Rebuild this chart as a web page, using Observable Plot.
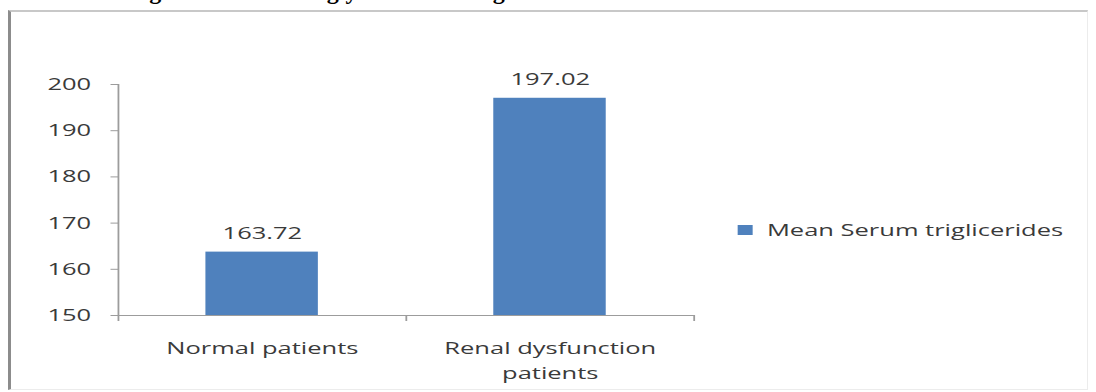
<!DOCTYPE html>
<html>
<head>
<meta charset="utf-8">
<script src="https://cdn.jsdelivr.net/npm/d3@7"></script>
<script src="https://cdn.jsdelivr.net/npm/@observablehq/plot@0.6"></script>
<style>
  html, body { margin: 0; padding: 0; background: #fff; }
  #page { position: relative; width: 1096px; height: 392px; overflow: hidden; background: #fff; }
  #title { position: absolute; left: 128px; top: -21px; font: bold 24px "Liberation Serif", "Times New Roman", serif; color: #000; white-space: nowrap; line-height: 24px; }
  #frame { position: absolute; left: 8px; top: 10px; width: 1076px; height: 377px;
           border-top: 2px solid #c8c8c8; border-left: 3px solid #8c8c8c;
           border-right: 1px solid #ececec; border-bottom: 1px solid #ececec; }
  #stretch { position: absolute; left: 0; top: 0; width: 731px; height: 392px; transform-origin: 0 0; }
  #legend { position: absolute; left: 492px; top: 221px; display: flex; align-items: center;
            font: 17px "Open Sans", sans-serif; color: #3a3a3a; line-height: 17px; white-space: nowrap; }
  #legend .sw { width: 10px; height: 10px; margin-right: 9.5px; }
</style>
</head>
<body>
<div id="page">
  <div id="title"></div>
  <div id="frame"></div>
  <div id="stretch"></div>
</div>
<script>
// ---- data ----
const categories = ["Normal patients", "Renal dysfunction patients"];
const categoryLabels = ["Normal patients", "Renal dysfunction\npatients"];
const values = [163.72, 197.02];
const yDomain = [150, 200];
const yTicks = [150, 160, 170, 180, 190, 200];
const seriesName = "Mean Serum triglicerides";
const titleText = "Figure 3: Serum triglycerides among the studied cases";

// ---- layout ----
const S = 1096 / 731;           // horizontal stretch of the original picture
const barColor = "#4f81bd";
const axisColor = "#9c9c9c";
const textColor = "#3a3a3a";

const data = categories.map((c, i) => ({cat: c, label: categoryLabels[i], value: values[i]}));
const fmt = d3.format(".2f");

document.getElementById("title").textContent = titleText;
const stretch = document.getElementById("stretch");
stretch.style.transform = `scaleX(${S})`;

const plot = Plot.plot({
  width: 731,
  height: 392,
  marginTop: 84,
  marginBottom: 77,
  marginLeft: 79,
  marginRight: 268,
  style: {background: "transparent", fontFamily: "'Open Sans', sans-serif", color: textColor, overflow: "visible"},
  x: {domain: categories, paddingInner: 0.608, paddingOuter: 0.304, axis: null},
  y: {domain: yDomain, axis: null},
  marks: [
    Plot.axisY({ticks: yTicks, tickSize: 5.3, tickPadding: 13.4, fontSize: 17, stroke: axisColor, fill: textColor, label: null}),
    Plot.ruleY([yDomain[0]], {stroke: axisColor, strokeWidth: 1.2}),
    Plot.barY(data, {x: "cat", y1: () => yDomain[0], y2: "value", fill: barColor}),
    Plot.text(data, {x: "cat", y: "value", text: d => fmt(d.value), dy: -18.5, fontSize: 17, fill: textColor}),
    Plot.text(data, {x: "cat", y: () => yDomain[0], text: "label", lineAnchor: "top", dy: 21, lineHeight: 1.47, fontSize: 17, fill: textColor})
  ]
});
stretch.appendChild(plot);

// Excel-style axis line and category-boundary ticks, derived from the plot's scales
const sx = plot.scale("x"), sy = plot.scale("y");
const band = d3.scaleBand().domain(sx.domain).range(sx.range)
  .paddingInner(sx.paddingInner).paddingOuter(sx.paddingOuter).align(sx.align ?? 0.5);
const ly = d3.scaleLinear().domain(sy.domain).range(sy.range);
const step = band.step();
const centers = categories.map(c => band(c) + band.bandwidth() / 2);
const bounds = centers.map(c => c - step / 2).concat([centers[centers.length - 1] + step / 2]);
const g = d3.select(plot).append("g").attr("stroke", axisColor).attr("stroke-width", 1.2);
g.append("line").attr("x1", bounds[0]).attr("x2", bounds[0])
  .attr("y1", ly(yDomain[1])).attr("y2", ly(yDomain[0]) + 6);
g.selectAll("line.b").data(bounds.slice(1)).join("line").attr("class", "b")
  .attr("x1", d => d).attr("x2", d => d)
  .attr("y1", ly(yDomain[0])).attr("y2", ly(yDomain[0]) + 6);

// legend
const legend = document.createElement("div");
legend.id = "legend";
legend.innerHTML = `<span class="sw" style="background:${barColor}"></span><span></span>`;
legend.lastChild.textContent = seriesName;
stretch.appendChild(legend);
</script>
</body>
</html>
